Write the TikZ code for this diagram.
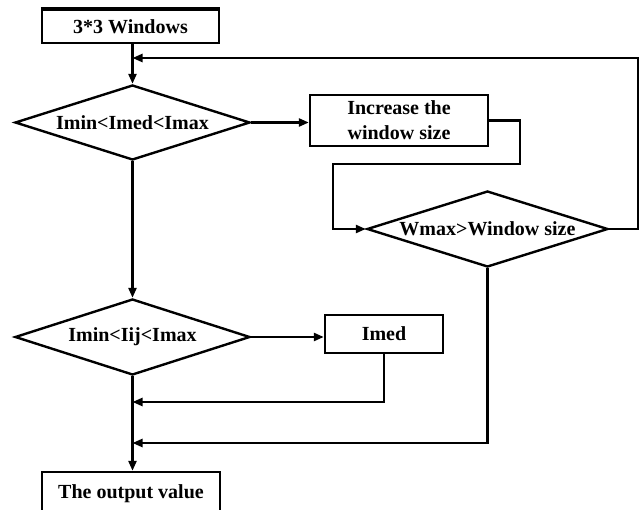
\documentclass[tikz,border=0pt]{standalone}
\usepackage{fontspec}
\setmainfont{Liberation Serif}
\usetikzlibrary{shapes.geometric,arrows.meta}

\begin{document}
\begin{tikzpicture}[x=1pt,y=-1pt,line width=2.4pt,>={Triangle[length=10pt,width=8pt]},
  box/.style={draw,rectangle,inner sep=0pt,align=center,font=\fontsize{20}{25}\selectfont\bfseries},
  test/.style={draw,diamond,aspect=3.3,inner sep=0pt,font=\fontsize{20}{25}\selectfont\bfseries}]
  \useasboundingbox (0,0) rectangle (640,509);

\node[box,minimum width=177pt,minimum height=33pt] (win) at (130.5,26.5) {3*3 Windows};
\draw[line width=4.5pt] (win.north west) -- (win.north east);

\node[test,minimum width=235pt,minimum height=75pt] (d1) at (132.5,122.5) {Imin<Imed<Imax};
\node[box,minimum width=178pt,minimum height=51pt] (inc) at (399,120.5) {Increase the\\window size};
\node[test,minimum width=241pt,minimum height=76pt] (d2) at (487.5,229) {Wmax>Window size};
\node[test,minimum width=235pt,minimum height=76pt] (d3) at (132.5,337) {Imin<Iij<Imax};
\node[box,minimum width=118pt,minimum height=38pt] (imed) at (384,334) {Imed};
\node[box,minimum width=178pt,minimum height=43pt] (out) at (131,493.5) {The output value};

\draw[->] (win.south -| d1.north) -- (d1.north);
\draw[->] (d1.east) -- (d1.east -| inc.west);
\draw[->] (inc.east) -| (520,164) -- (333,164) |- (d2.west);
\draw[->] (d2.east) -| (638,58) -- (d1.north |- 0,58);
\draw[->] (d1.south) -- (d3.north);
\draw[->] (d3.east) -- (d3.east -| imed.west);
\draw[->] (imed.south) |- (d3.south |- 0,402);
\draw[->] (d2.south) |- (d3.south |- 0,443);
\draw[->] (d3.south) -- (d3.south |- out.north);
\end{tikzpicture}
\end{document}
